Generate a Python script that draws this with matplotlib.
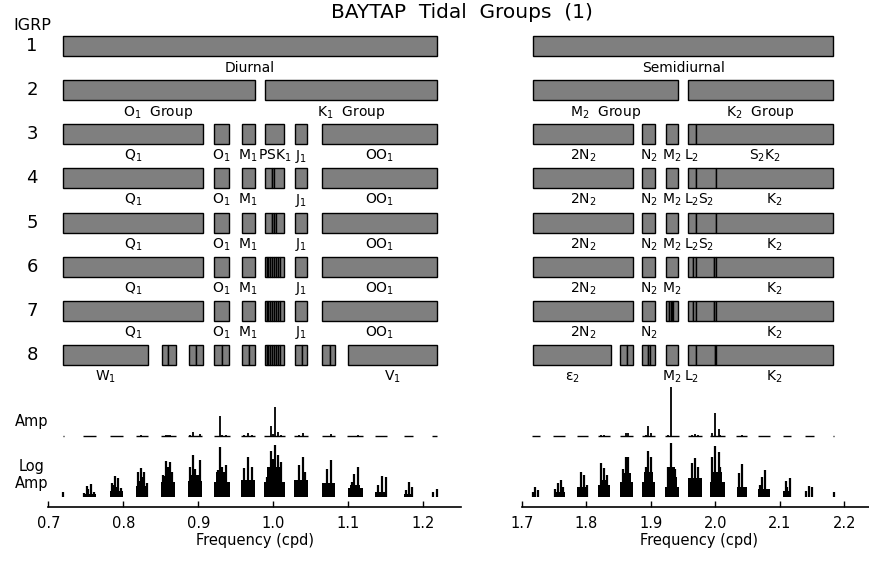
import matplotlib
matplotlib.use("Agg")
import matplotlib.pyplot as plt
import numpy as np
from matplotlib.transforms import blended_transform_factory

plt.rcParams['font.family'] = ['DejaVu Sans']
plt.rcParams['mathtext.fontset'] = 'dejavusans'

W, H = 870, 562

# ---------------- tidal group bars (row, lo, hi) ----------------
psk_split = [(0.989, 0.9912), (0.9912, 0.9935), (0.9935, 0.996), (0.996, 0.998),
             (0.998, 1.0005), (1.0005, 1.0035), (1.0035, 1.006), (1.006, 1.009),
             (1.009, 1.014)]
diurnal_bars = (
    [(1, 0.720, 1.218)]
    + [(2, 0.720, 0.975), (2, 0.989, 1.218)]
    + [(3, 0.720, 0.906), (3, 0.921, 0.941), (3, 0.958, 0.975), (3, 0.989, 1.014),
       (3, 1.029, 1.045), (3, 1.065, 1.218)]
    + [(4, 0.720, 0.906), (4, 0.921, 0.941), (4, 0.958, 0.975), (4, 0.989, 0.998),
       (4, 0.998, 1.001), (4, 1.001, 1.014), (4, 1.029, 1.045), (4, 1.065, 1.218)]
    + [(5, 0.720, 0.906), (5, 0.921, 0.941), (5, 0.958, 0.975), (5, 0.989, 0.998),
       (5, 0.998, 1.0005), (5, 1.0005, 1.0035), (5, 1.0035, 1.014), (5, 1.029, 1.045),
       (5, 1.065, 1.218)]
    + [(6, 0.720, 0.906), (6, 0.921, 0.941), (6, 0.958, 0.975)] + [(6,) + s for s in psk_split]
    + [(6, 1.029, 1.045), (6, 1.065, 1.218)]
    + [(7, 0.720, 0.906), (7, 0.921, 0.941), (7, 0.958, 0.975)] + [(7,) + s for s in psk_split]
    + [(7, 1.029, 1.045), (7, 1.065, 1.218)]
    + [(8, 0.720, 0.833), (8, 0.851, 0.860), (8, 0.860, 0.870), (8, 0.887, 0.897),
       (8, 0.897, 0.906), (8, 0.921, 0.931), (8, 0.931, 0.941), (8, 0.958, 0.967),
       (8, 0.967, 0.975)] + [(8,) + s for s in psk_split]
    + [(8, 1.029, 1.038), (8, 1.038, 1.045), (8, 1.065, 1.075), (8, 1.075, 1.082),
       (8, 1.100, 1.218)]
)

semi_bars = (
    [(1, 1.718, 2.183)]
    + [(2, 1.718, 1.943), (2, 1.958, 2.183)]
    + [(3, 1.718, 1.872), (3, 1.887, 1.906), (3, 1.923, 1.943), (3, 1.958, 1.970),
       (3, 1.970, 2.183)]
    + [(r, a, b) for r in (4, 5) for a, b in
       [(1.718, 1.872), (1.887, 1.906), (1.923, 1.943), (1.958, 1.970),
        (1.970, 2.001), (2.001, 2.183)]]
    + [(6, 1.718, 1.872), (6, 1.887, 1.906), (6, 1.923, 1.943), (6, 1.958, 1.966),
       (6, 1.966, 1.970), (6, 1.970, 1.998), (6, 1.998, 2.001), (6, 2.001, 2.183)]
    + [(7, 1.718, 1.872), (7, 1.887, 1.906), (7, 1.923, 1.929), (7, 1.929, 1.931),
       (7, 1.931, 1.933), (7, 1.933, 1.935), (7, 1.935, 1.943), (7, 1.958, 1.966),
       (7, 1.966, 1.970), (7, 1.970, 1.998), (7, 1.998, 2.001), (7, 2.001, 2.183)]
    + [(8, 1.718, 1.838), (8, 1.853, 1.863), (8, 1.863, 1.872), (8, 1.887, 1.896),
       (8, 1.896, 1.8985), (8, 1.8985, 1.906), (8, 1.923, 1.943), (8, 1.958, 1.970),
       (8, 1.970, 1.999), (8, 1.999, 2.001), (8, 2.001, 2.183)]
)

# ---------------- group labels (row, freq, text) ----------------
d_std = [(0.813, r'$\mathrm{Q_1}$'), (0.931, r'$\mathrm{O_1}$'), (0.9665, r'$\mathrm{M_1}$'),
         (1.037, r'$\mathrm{J_1}$'), (1.1415, r'$\mathrm{OO_1}$')]
diurnal_labels = (
    [(1, 0.969, 'Diurnal'),
     (2, 0.847, r'$\mathrm{O_1}$  Group'), (2, 1.1035, r'$\mathrm{K_1}$  Group'),
     (3, 1.0015, r'$\mathrm{PSK_1}$')]
    + [(r, f, t) for r in (3, 4, 5, 6, 7) for f, t in d_std]
    + [(8, 0.7765, r'$\mathrm{W_1}$'), (8, 1.159, r'$\mathrm{V_1}$')]
)

s_2n2 = (1.795, r'$\mathrm{2N_2}$')
s_n2 = (1.8965, r'$\mathrm{N_2}$')
s_m2 = (1.933, r'$\mathrm{M_2}$')
s_l2 = (1.964, r'$\mathrm{L_2}$')
s_s2 = (1.9855, r'$\mathrm{S_2}$')
s_k2 = (2.092, r'$\mathrm{K_2}$')
semi_labels = (
    [(1, 1.9505, 'Semidiurnal'),
     (2, 1.8305, r'$\mathrm{M_2}$  Group'), (2, 2.0705, r'$\mathrm{K_2}$  Group')]
    + [(3,) + s for s in (s_2n2, s_n2, s_m2, s_l2)] + [(3, 2.0765, r'$\mathrm{S_2K_2}$')]
    + [(r,) + s for r in (4, 5) for s in (s_2n2, s_n2, s_m2, s_l2, s_s2, s_k2)]
    + [(6,) + s for s in (s_2n2, s_n2, s_m2, s_k2)]
    + [(7,) + s for s in (s_2n2, s_n2, s_k2)]
    + [(8, 1.778, r'$\mathrm{\varepsilon_2}$')] + [(8,) + s for s in (s_m2, s_l2, s_k2)]
)

# ---------------- spectrum: lines (freq, log10 amp) ----------------
d_line_f = [0.7200,
            0.7480, 0.7512, 0.7533, 0.7565, 0.7613,
            0.7845, 0.7870, 0.7889, 0.7925, 0.7969,
            0.8200, 0.8236, 0.8260, 0.8280, 0.8312,
            0.8533, 0.8570, 0.8592, 0.8623, 0.8653,
            0.8885, 0.8932, 0.8960, 0.9023,
            0.9267, 0.9295, 0.9320, 0.9365,
            0.9614, 0.9659, 0.9712,
            0.9912, 0.9973, 1.0000, 1.0027, 1.0067, 1.0103,
            1.0343, 1.0392, 1.0420,
            1.0712, 1.0765,
            1.1045, 1.1076, 1.1125,
            1.1400, 1.1445, 1.1499,
            1.1770, 1.1810, 1.1853,
            1.2125, 1.2179]
d_line_L = [-4.48,
            -4.64, -3.97, -4.27, -3.82, -4.49,
            -3.66, -3.91, -3.06, -3.27, -4.18,
            -2.66, -2.34, -3.18, -2.66, -3.73,
            -3.00, -1.70, -2.27, -1.75, -2.73,
            -2.27, -1.14, -2.45, -1.61,
            -2.55, -0.424, -2.27, -2.06,
            -2.36, -1.30, -2.27,
            -3.12, -0.75, -1.55, -0.275, -1.18, -1.82,
            -2.06, -1.30, -2.73,
            -2.45, -1.61,
            -3.64, -2.88, -2.21,
            -3.88, -3.06, -3.12,
            -4.36, -3.57, -4.09,
            -4.55, -4.27]

d_band_lo = [0.749, 0.782, 0.786, 0.817, 0.821, 0.8505, 0.854, 0.886, 0.889, 0.921, 0.924,
             0.9565, 0.988, 0.991, 1.0276, 1.0645, 1.099, 1.102, 1.136, 1.1745]
d_band_hi = [0.763, 0.799, 0.794, 0.833, 0.829, 0.8695, 0.866, 0.905, 0.902, 0.942, 0.938,
             0.9755, 1.0155, 1.012, 1.0467, 1.0823, 1.119, 1.116, 1.152, 1.1865]
d_band_L = [-4.68, -4.45, -4.09, -4.00, -3.55, -3.57, -3.09, -3.55, -2.97, -3.64, -2.66,
            -3.43, -3.64, -2.25, -3.43, -3.73, -4.18, -3.91, -4.55, -4.73]

d_dash_lo = [0.7195, 0.7467, 0.7823, 0.8169, 0.8503, 0.8859, 0.9209, 0.9565, 0.988,
             1.0276, 1.0645, 1.0987, 1.1356, 1.1743, 1.2112]
d_dash_hi = [0.7205, 0.7632, 0.7992, 0.8333, 0.8699, 0.9045, 0.9423, 0.9756, 1.0156,
             1.0467, 1.0823, 1.1192, 1.152, 1.1867, 1.2187]

s_line_f = [1.7175, 1.7206, 1.7248,
            1.7516, 1.7568, 1.7605, 1.7645,
            1.7919, 1.7971, 1.8005,
            1.8230, 1.8281, 1.8320,
            1.8570, 1.8617, 1.8653,
            1.8920, 1.8960, 1.9005,
            1.9273, 1.9322, 1.9377,
            1.9645, 1.9687, 1.9738,
            1.9955, 2.0000, 2.0055, 2.0074,
            2.0369, 2.0411,
            2.0690, 2.0730, 2.0772,
            2.1098, 2.1120, 2.1155,
            2.1408, 2.1459, 2.1505,
            2.1835]
s_line_L = [-4.55, -4.09, -4.36,
            -4.27, -3.73, -3.43, -4.09,
            -2.66, -2.97, -3.91,
            -1.91, -2.36, -3.00,
            -2.45, -1.36, -1.36,
            -2.27, -0.76, -1.30,
            -2.27, -0.042, -2.45,
            -1.91, -1.45, -2.27,
            -1.36, -0.374, -0.90, -2.27,
            -2.82, -1.97,
            -3.91, -3.18, -2.52,
            -3.52, -4.09, -3.21,
            -4.39, -3.97, -4.03,
            -4.55]

s_band_lo = [1.750, 1.7855, 1.818, 1.821, 1.8525, 1.856, 1.886, 1.889, 1.9222, 1.925, 1.928,
             1.9575, 1.992, 1.995, 2.033, 2.067, 2.105]
s_band_hi = [1.767, 1.803, 1.837, 1.834, 1.873, 1.869, 1.9065, 1.903, 1.9439, 1.941, 1.9375,
             1.979, 2.015, 2.0105, 2.0485, 2.085, 2.1175]
s_band_L = [-4.55, -4.03, -3.91, -3.43, -3.64, -2.82, -3.64, -2.66, -4.03, -3.18, -2.27,
            -3.27, -3.64, -2.66, -4.03, -4.27, -4.45]

s_dash_lo = [1.7164, 1.749, 1.7853, 1.8178, 1.8524, 1.886, 1.9222, 1.9574, 1.9919,
             2.0328, 2.0667, 2.1047, 2.1392, 2.1822]
s_dash_hi = [1.7284, 1.7671, 1.8033, 1.8369, 1.873, 1.9067, 1.9439, 1.979, 2.0152,
             2.0488, 2.0849, 2.1175, 2.1532, 2.1847]

left_ticks = [0.7, 0.8, 0.9, 1.0, 1.1, 1.2]
right_ticks = [1.7, 1.8, 1.9, 2.0, 2.1, 2.2]

fig = plt.figure(figsize=(W / 100, H / 100), dpi=100)


def px_axes(x0, y0, x1, y1):
    return fig.add_axes([x0 / W, 1 - y1 / H, (x1 - x0) / W, (y1 - y0) / H])


def panel(x0, x1, xlim, bars, labels, lf, lL, blo, bhi, bL, dlo, dhi, ticks):
    # group rows
    ag = px_axes(x0, 23.9, x1, 385.9)
    ag.set_xlim(xlim)
    ag.set_ylim(8.7, 0.5)
    ag.axis('off')
    for r, lo, hi in bars:
        ag.barh(r, hi - lo, left=lo, height=0.453, color='#7f7f7f',
                edgecolor='black', linewidth=1.0)
    for r, f, t in labels:
        ag.text(f, r + 0.58, t, ha='center', va='baseline', fontsize=10)

    # linear amplitude
    aa = px_axes(x0, 380, x1, 435.7)
    aa.set_xlim(xlim)
    aa.set_ylim(0, 1.039)
    aa.axis('off')
    aa.hlines(np.zeros(len(dlo)), dlo, dhi, color='black', lw=1.0, clip_on=False)
    aa.vlines(lf, 0, 10 ** np.array(lL), color='black', lw=1.3, clip_on=False)

    # log amplitude
    al = px_axes(x0, 440, x1, 507.3)
    al.set_xlim(xlim)
    al.set_ylim(-5.909, 0.209)
    al.bar(blo, np.array(bL) + 5, width=np.array(bhi) - np.array(blo), bottom=-5,
           align='edge', color='black', linewidth=0)
    al.vlines(lf, -5, lL, color='black', lw=1.6)
    for s in ('top', 'left', 'right'):
        al.spines[s].set_visible(False)
    al.spines['bottom'].set_linewidth(1.2)
    al.set_yticks([])
    al.set_xticks(ticks)
    al.set_xticklabels(['%.1f' % t for t in ticks])
    al.tick_params(axis='x', direction='in', length=4.5, width=1.0, labelsize=10.5, pad=6)
    al.set_xlabel('Frequency (cpd)', fontsize=10.5, labelpad=2)
    return ag


ag_left = panel(48.3, 460.8, (0.7, 1.25), diurnal_bars, diurnal_labels,
                d_line_f, d_line_L, d_band_lo, d_band_hi, d_band_L,
                d_dash_lo, d_dash_hi, left_ticks)
panel(521.7, 876.5, (1.7, 2.25), semi_bars, semi_labels,
      s_line_f, s_line_L, s_band_lo, s_band_hi, s_band_L,
      s_dash_lo, s_dash_hi, right_ticks)

# row numbers
tr = blended_transform_factory(fig.transFigure, ag_left.transData)
for r in range(1, 9):
    ag_left.text(32 / W, r, str(r), transform=tr, ha='center', va='center', fontsize=13)

fig.text(32.5 / W, 1 - 25 / H, 'IGRP', ha='center', va='center', fontsize=11.5)
fig.text(32 / W, 1 - 421.7 / H, 'Amp', ha='center', va='center', fontsize=10.5)
fig.text(32 / W, 1 - 466.7 / H, 'Log', ha='center', va='center', fontsize=10.5)
fig.text(32 / W, 1 - 483.3 / H, 'Amp', ha='center', va='center', fontsize=10.5)
fig.text(461.7 / W, 1 - 12.7 / H, 'BAYTAP  Tidal  Groups  (1)', ha='center',
         va='center', fontsize=14.5)

fig.savefig('out.png', dpi=100)
